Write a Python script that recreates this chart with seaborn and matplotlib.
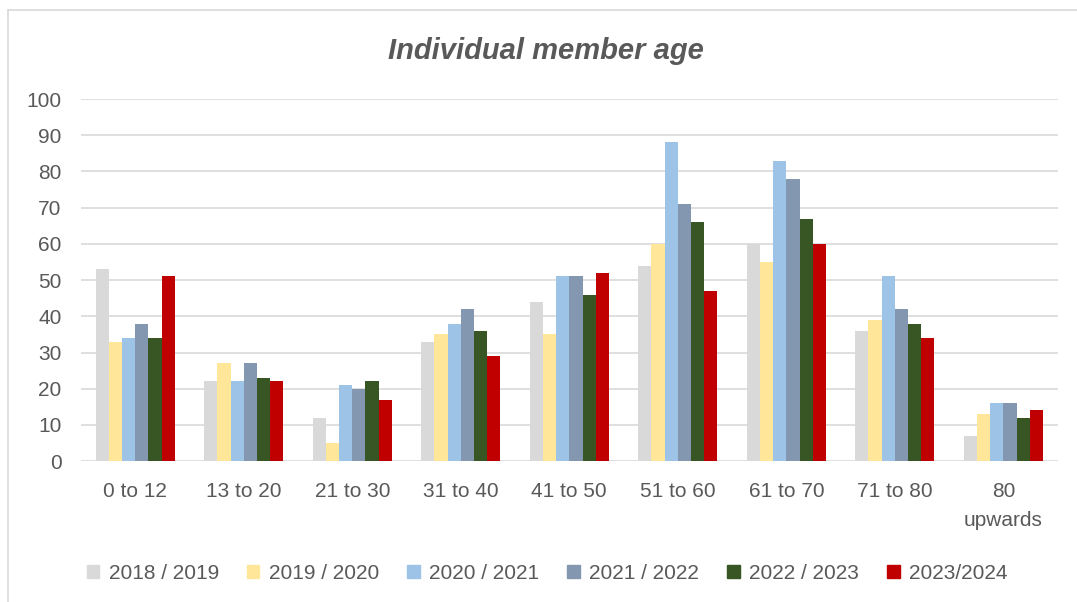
import matplotlib
matplotlib.use('Agg')
import matplotlib.pyplot as plt
import pandas as pd
import seaborn as sns
from matplotlib.lines import Line2D

# Chart data

age_groups = ['0 to 12', '13 to 20', '21 to 30', '31 to 40', '41 to 50',
              '51 to 60', '61 to 70', '71 to 80', '80\nupwards']
seasons = ['2018 / 2019', '2019 / 2020', '2020 / 2021', '2021 / 2022', '2022 / 2023', '2023/2024']

s_2018 = [53, 22, 12, 33, 44, 54, 60, 36, 7]
s_2019 = [33, 27, 5, 35, 35, 60, 55, 39, 13]
s_2020 = [34, 22, 21, 38, 51, 88, 83, 51, 16]
s_2021 = [38, 27, 20, 42, 51, 71, 78, 42, 16]
s_2022 = [34, 23, 22, 36, 46, 66, 67, 38, 12]
s_2023 = [51, 22, 17, 29, 52, 47, 60, 34, 14]

colors = ['#D9D9D9', '#FFE699', '#9DC3E6', '#8497B0', '#375623', '#C00000']

# Build long table

rows = []
for season, vals in zip(seasons, [s_2018, s_2019, s_2020, s_2021, s_2022, s_2023]):
    for grp, v in zip(age_groups, vals):
        rows.append({'age': grp, 'season': season, 'members': v})
df = pd.DataFrame(rows)

# Plot

sns.set_style('white')
plt.rcParams['font.family'] = ['Liberation Sans', 'DejaVu Sans']
text_col = '#595959'

fig = plt.figure(figsize=(10.77, 6.02), dpi=100)
ax = fig.add_axes([0.0752, 0.234, 0.9068, 0.6015])

sns.barplot(data=df, x='age', y='members', hue='season', order=age_groups,
            hue_order=seasons, palette=colors, width=0.73, gap=0,
            saturation=1, linewidth=0, legend=False, ax=ax)

ax.set_ylim(0, 100)
ax.set_yticks(range(0, 101, 10))
ax.set_xlim(-0.5, len(age_groups) - 0.5)
ax.yaxis.grid(True, color='#D9D9D9', linewidth=1.2)
ax.set_axisbelow(True)
for sp in ax.spines.values():
    sp.set_visible(False)
ax.set_xlabel('')
ax.set_ylabel('')
ax.tick_params(axis='x', length=0, pad=15, labelsize=15, colors=text_col)
ax.tick_params(axis='y', length=0, pad=14, labelsize=15, colors=text_col)
for lab in ax.get_xticklabels():
    lab.set_verticalalignment('top')
    lab.set_linespacing(1.7)

fig.text(0.507, 0.915, 'Individual member age', ha='center', va='center',
         fontsize=21, fontweight='bold', fontstyle='italic', color=text_col)

handles = [plt.Rectangle((0, 0), 1, 1, color=c) for c in colors]
fig.legend(handles, seasons, loc='center', bbox_to_anchor=(0.508, 0.047), ncol=6,
           frameon=False, fontsize=15, handlelength=0.6, handleheight=0.6,
           handletextpad=0.45, columnspacing=1.35, labelcolor=text_col)

# outer chart border
fig.add_artist(Line2D([8 / 1077, 1], [1 - 10 / 602, 1 - 10 / 602], transform=fig.transFigure,
                      color='#D9D9D9', linewidth=1.2))
fig.add_artist(Line2D([8 / 1077, 8 / 1077], [0, 1 - 10 / 602], transform=fig.transFigure,
                      color='#D9D9D9', linewidth=1.2))

fig.savefig('out.png', dpi=100)
